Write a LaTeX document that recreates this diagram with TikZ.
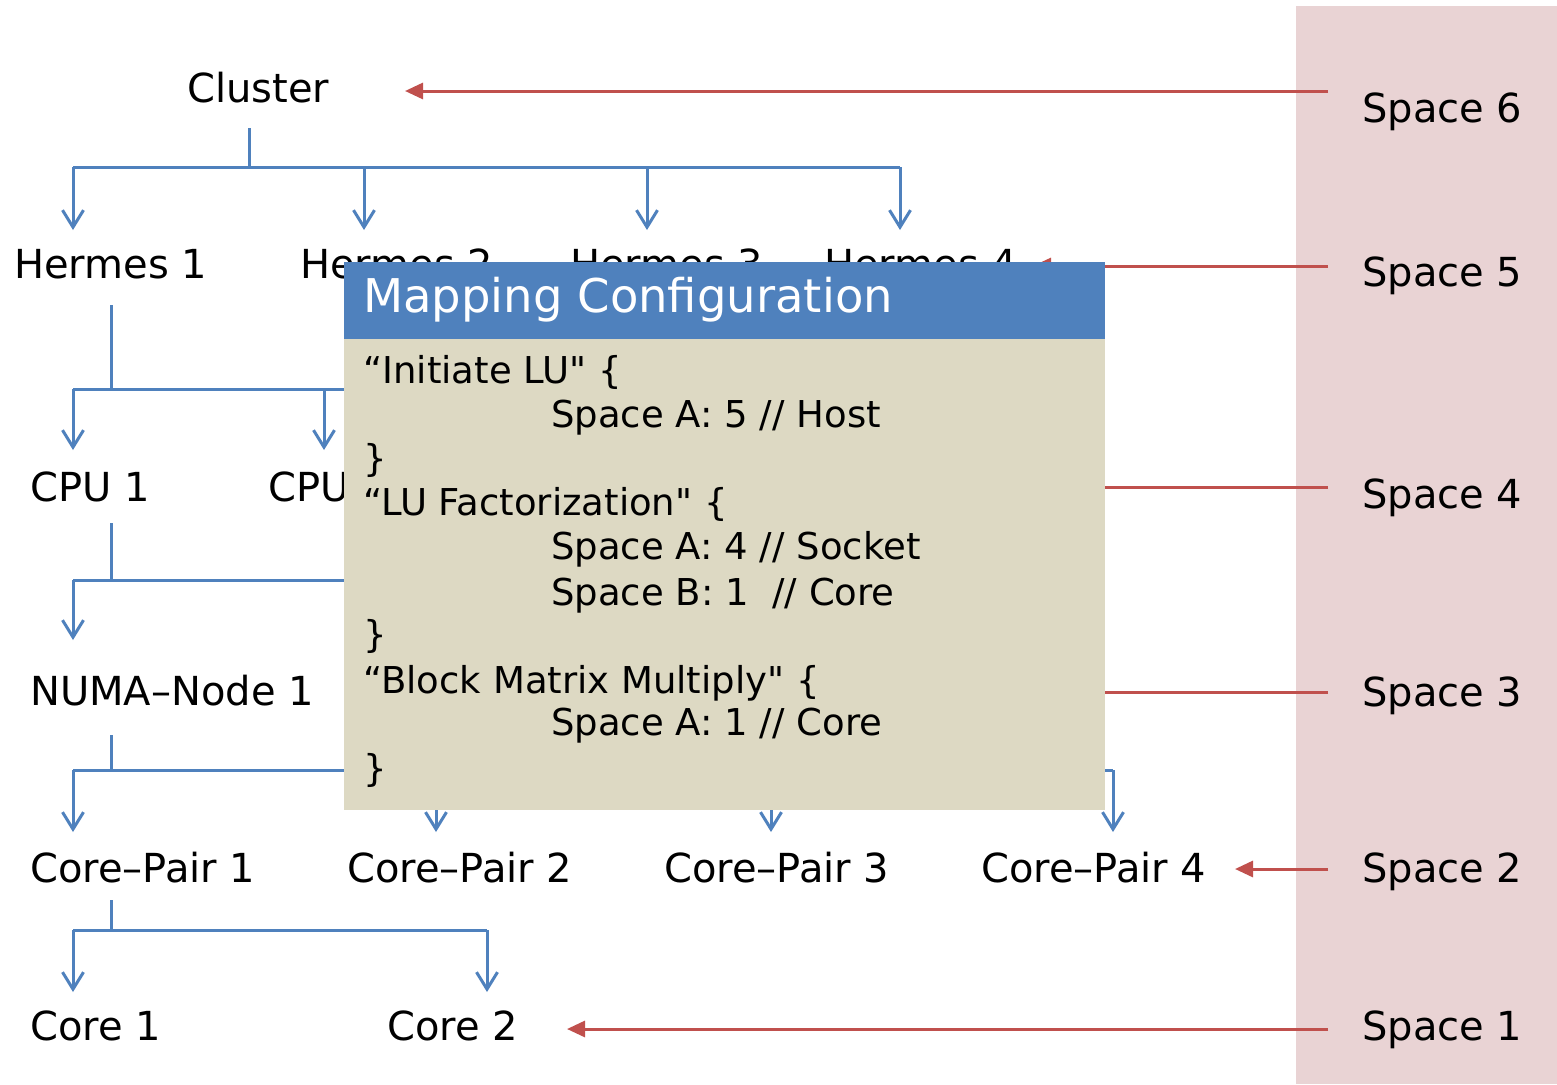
\documentclass[tikz,border=0pt]{standalone}
\usepackage{fontspec}
\setmainfont{DejaVu Sans}[Ligatures=TeXOff]
\usetikzlibrary{arrows.meta}
\definecolor{treeblue}{HTML}{4F81BD}
\definecolor{spacered}{HTML}{C0504D}
\definecolor{bandpink}{HTML}{E9D3D4}
\definecolor{panelbody}{HTML}{DDD9C3}
\definecolor{panelhead}{HTML}{4F81BD}
\begin{document}
\begin{tikzpicture}[x=1pt,y=-1pt,
  lbl/.style={anchor=base west, inner sep=0pt, font=\fontsize{40}{48}\selectfont},
  code/.style={anchor=base west, inner sep=0pt, font=\fontsize{37}{44}\selectfont},
  tree/.style={draw=treeblue, line width=3pt},
  down/.style={tree, -{Straight Barb[length=17pt,width=21pt]}},
  spacearrow/.style={draw=spacered, line width=3pt, -{Triangle[length=18pt,width=16pt]}},
  spaceline/.style={draw=spacered, line width=3pt}]
\useasboundingbox (0,0) rectangle (1557,1084);
\fill[white] (0,0) rectangle (1557,1084);

% band holding the space levels
\fill[bandpink] (1296,6) rectangle (1557,1084);
\node[lbl] (s6) at (1362,122) {Space 6};
\node[lbl] (s5) at (1362,286) {Space 5};
\node[lbl] (s4) at (1362,508) {Space 4};
\node[lbl] (s3) at (1362,706) {Space 3};
\node[lbl] (s2) at (1362,882) {Space 2};
\node[lbl] (s1) at (1362,1040) {Space 1};

% hierarchy labels
\node[lbl] (cluster) at (187,102) {Cluster};
\node[lbl] (h1) at (14,278) {Hermes 1};
\node[lbl] (h2) at (300,278) {Hermes 2};
\node[lbl] (h3) at (570,278) {Hermes 3};
\node[lbl] (h4) at (824,278) {Hermes 4};
\node[lbl] (cpu1) at (30,501) {CPU 1};
\node[lbl] (cpu2) at (268,501) {CPU 2};
\node[lbl] (numa1) at (30,705) {NUMA–Node 1};
\node[lbl] (cp1) at (30,882) {Core–Pair 1};
\node[lbl] (cp2) at (347,882) {Core–Pair 2};
\node[lbl] (cp3) at (664,882) {Core–Pair 3};
\node[lbl] (cp4) at (981,882) {Core–Pair 4};
\node[lbl] (c1) at (30,1040) {Core 1};
\node[lbl] (c2) at (387,1040) {Core 2};

% branch points and arrow targets
\coordinate (clstem) at (249,128);
\coordinate (clfork) at (249,167);
\coordinate (h1stem) at (111,305);
\coordinate (h1fork) at (111,389);
\coordinate (cpustem) at (111,523);
\coordinate (cpufork) at (111,580);
\coordinate (numastem) at (111,735);
\coordinate (numafork) at (111,770);
\coordinate (cpstem) at (111,900);
\coordinate (cpfork) at (111,930);

% cluster -> hermes
\draw[tree] (clstem) -- (clfork);
\draw[tree] (73,167) -- (900,167);
\foreach \x in {73,364,647,900} \draw[down] (\x,167) -- (\x,230);
% hermes -> cpu
\draw[tree] (h1stem) -- (h1fork);
\draw[tree] (73,389) -- (700,389);
\foreach \x in {73,324} \draw[down] (\x,389) -- (\x,450);
% cpu -> numa node
\draw[tree] (cpustem) -- (cpufork);
\draw[tree] (73,580) -- (600,580);
\draw[down] (73,580) -- (73,640);
% numa node -> core pairs
\draw[tree] (numastem) -- (numafork);
\draw[tree] (73,770) -- (1113,770);
\foreach \x in {73,436,771,1113} \draw[down] (\x,770) -- (\x,832);
% core pair -> cores
\draw[tree] (cpstem) -- (cpfork);
\draw[tree] (73,930) -- (487,930);
\foreach \x in {73,487} \draw[down] (\x,930) -- (\x,992);

% space levels pointing at the hierarchy
\coordinate (s6from) at (1328,91);
\coordinate (s5from) at (1328,266);
\coordinate (s4from) at (1328,487);
\coordinate (s3from) at (1328,692);
\coordinate (s2from) at (1328,869);
\coordinate (s1from) at (1328,1029);
\coordinate (s6to) at (405,91);
\coordinate (s5to) at (1033,266);
\coordinate (s4to) at (1000,487);
\coordinate (s3to) at (1000,692);
\coordinate (s2to) at (1235,869);
\coordinate (s1to) at (567,1029);
\draw[spacearrow] (s6from) -- (s6to);
\draw[spacearrow] (s5from) -- (s5to);
\draw[spaceline] (s4from) -- (s4to);
\draw[spaceline] (s3from) -- (s3to);
\draw[spacearrow] (s2from) -- (s2to);
\draw[spacearrow] (s1from) -- (s1to);

% mapping configuration panel
\fill[panelbody] (344,339) rectangle (1105,810);
\fill[panelhead] (344,262) rectangle (1105,339);
\node[anchor=base west, inner sep=0pt, text=white, font=\fontsize{46.5}{55}\selectfont] (title) at (363,312) {Mapping Configuration};
\node[code] (l1) at (363,383) {“Initiate LU" \{};
\node[code] (l2) at (551,427) {Space A: 5 // Host};
\node[code] (l3) at (363,471) {\}};
\node[code] (l4) at (363,515) {“LU Factorization" \{};
\node[code] (l5) at (551,559) {Space A: 4 // Socket};
\node[code] (l6) at (551,605) {Space B: 1 \ // Core};
\node[code] (l7) at (363,647) {\}};
\node[code] (l8) at (363,693) {“Block Matrix Multiply" \{};
\node[code] (l9) at (551,735) {Space A: 1 // Core};
\node[code] (l10) at (363,781) {\}};
\end{tikzpicture}
\end{document}
